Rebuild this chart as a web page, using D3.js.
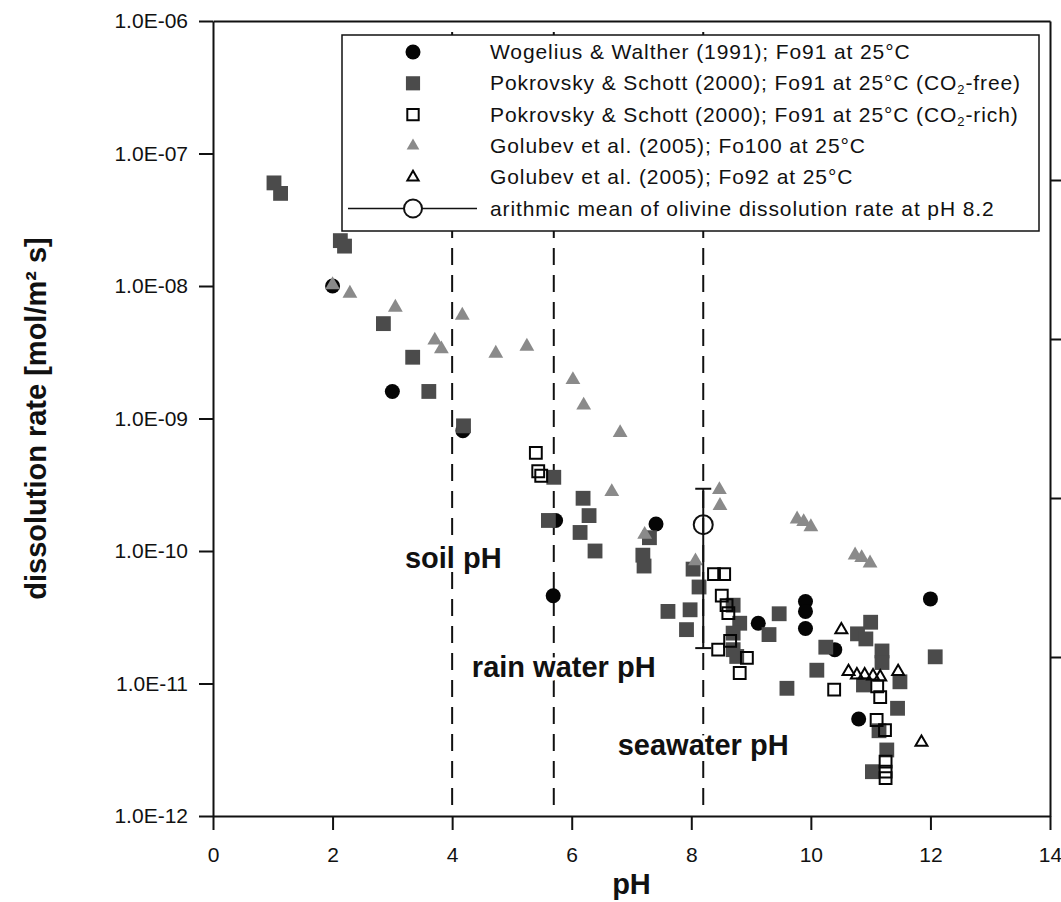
<!DOCTYPE html>
<html lang="en">
<head>
<meta charset="UTF-8">
<title>Olivine dissolution rate vs pH</title>
<script src="https://d3js.org/d3.v7.min.js"></script>
<style>
  body { margin: 0; background: #fff; }
  svg text { font-family: "Liberation Sans", Arial, sans-serif; fill: #111; }
  .axis path, .axis line { fill: none; stroke: #111; stroke-width: 2; }
  .axis text { font-size: 21px; font-family: "Liberation Sans", Arial, sans-serif; fill: #111; }
  .title { font-size: 29px; font-weight: bold; }
  .note { font-size: 29px; font-weight: bold; stroke: #fff; stroke-width: 7; paint-order: stroke; }
  .legend text { font-size: 21px; letter-spacing: 0.9px; }
</style>
</head>
<body>
<svg id="chart" width="1061" height="902"></svg>
<script>
// [pH, rate mol/m2/s]
const wogelius = [
  [2.0, 1.0e-8], [3.0, 1.6e-9], [4.18, 8.1e-10], [5.73, 1.7e-10], [5.69, 4.6e-11],
  [7.41, 1.6e-10], [9.12, 2.85e-11], [9.91, 4.15e-11], [9.91, 3.5e-11], [9.91, 2.6e-11],
  [10.40, 1.8e-11], [10.80, 5.4e-12], [12.0, 4.35e-11]
];
const pokrovskyFree = [
  [1.02, 6.0e-8], [1.13, 5.0e-8], [2.13, 2.2e-8], [2.20, 2.0e-8], [2.85, 5.2e-9],
  [3.34, 2.9e-9], [3.61, 1.6e-9], [4.19, 8.8e-10], [5.70, 3.6e-10], [6.19, 2.5e-10],
  [6.29, 1.85e-10], [5.61, 1.7e-10], [6.14, 1.38e-10], [6.39, 1.0e-10], [7.30, 1.26e-10],
  [7.19, 9.3e-11], [7.21, 7.7e-11], [7.61, 3.5e-11], [8.03, 7.3e-11], [8.13, 5.35e-11],
  [7.98, 3.6e-11], [7.92, 2.55e-11], [8.70, 3.9e-11], [8.70, 1.8e-11], [8.76, 1.6e-11],
  [8.81, 2.85e-11], [8.70, 2.4e-11], [9.47, 3.36e-11], [9.30, 2.34e-11], [10.25, 1.88e-11],
  [10.10, 1.26e-11], [9.60, 9.2e-12], [10.78, 2.37e-11], [11.0, 2.9e-11], [10.92, 2.17e-11],
  [11.19, 1.76e-11], [11.19, 1.44e-11], [10.88, 9.75e-12], [11.49, 1.03e-11], [11.45, 6.5e-12],
  [11.14, 4.4e-12], [11.27, 3.15e-12], [11.03, 2.16e-12], [12.08, 1.59e-11]
];
const pokrovskyRich = [
  [5.40, 5.5e-10], [5.44, 4.0e-10], [5.49, 3.7e-10], [8.38, 6.7e-11], [8.55, 6.7e-11],
  [8.51, 4.6e-11], [8.59, 3.9e-11], [8.62, 3.4e-11], [8.45, 1.8e-11], [8.65, 2.1e-11],
  [8.93, 1.56e-11], [8.81, 1.2e-11], [10.39, 9.0e-12], [11.11, 9.5e-12], [11.16, 7.9e-12],
  [11.10, 5.3e-12], [11.24, 4.45e-12], [11.25, 2.57e-12], [11.25, 2.16e-12], [11.25, 1.93e-12]
];
const golubev100 = [
  [2.0, 1.02e-8], [2.29, 8.8e-9], [3.05, 6.9e-9], [3.71, 3.9e-9], [3.82, 3.35e-9],
  [4.17, 6.0e-9], [4.73, 3.1e-9], [5.25, 3.5e-9], [6.02, 1.96e-9], [6.20, 1.26e-9],
  [6.81, 7.8e-10], [6.67, 2.8e-10], [7.22, 1.33e-10], [8.47, 2.9e-10], [8.48, 2.2e-10],
  [8.07, 8.4e-11], [9.77, 1.74e-10], [9.88, 1.66e-10], [10.0, 1.52e-10], [10.74, 9.3e-11],
  [10.85, 8.9e-11], [10.99, 8.1e-11]
];
const golubev92 = [
  [10.51, 2.54e-11], [10.63, 1.23e-11], [10.77, 1.16e-11], [10.90, 1.16e-11],
  [11.04, 1.14e-11], [11.16, 1.12e-11], [11.46, 1.23e-11], [11.85, 3.6e-12]
];
// arithmetic mean at pH 8.2 with range
const meanPoint = {ph: 8.2, rate: 1.58e-10, lo: 1.85e-11, hi: 2.95e-10};

const refPH = [4.0, 5.7, 8.2];
const notes = [
  {text: "soil pH", ph: 3.21, rate: 7.45e-11},
  {text: "rain water pH", ph: 4.33, rate: 1.12e-11},
  {text: "seawater pH", ph: 6.77, rate: 2.88e-12}
];

const xTicks = [0, 2, 4, 6, 8, 10, 12, 14];
const yTicks = [1e-12, 1e-11, 1e-10, 1e-9, 1e-8, 1e-7, 1e-6];

const legendLabels = [
  "Wogelius & Walther (1991); Fo91 at 25°C",
  "Pokrovsky & Schott (2000); Fo91 at 25°C (CO|-free)",
  "Pokrovsky & Schott (2000); Fo91 at 25°C (CO|-rich)",
  "Golubev et al. (2005); Fo100 at 25°C",
  "Golubev et al. (2005); Fo92 at 25°C",
  "arithmic mean of olivine dissolution rate at pH 8.2"
];

const margin = {top: 21, right: 11, bottom: 86, left: 213},
    width = 1061 - margin.left - margin.right,
    height = 902 - margin.top - margin.bottom;

const x = d3.scaleLinear().domain([0, 14]).range([0, width]);
const y = d3.scaleLog().domain([1e-12, 1e-6]).range([height, 0]);

const svg = d3.select("#chart");
const g = svg.append("g")
    .attr("transform", "translate(" + margin.left + "," + margin.top + ")");

const fmtE = d => "1.0E-" + String(Math.round(-Math.log10(d))).padStart(2, "0");

g.append("g")
    .attr("class", "axis")
    .attr("transform", "translate(0," + height + ")")
    .call(d3.axisBottom(x).tickValues(xTicks).tickSize(14).tickSizeOuter(0).tickPadding(17));

g.append("g")
    .attr("class", "axis")
    .call(d3.axisLeft(y).tickValues(yTicks).tickFormat(fmtE).tickSize(14).tickSizeOuter(0).tickPadding(11));

g.append("g")
    .attr("class", "axis")
    .call(d3.axisTop(x).tickValues([]).tickSizeOuter(0));

// right axis: unlabeled, five even divisions
const yr = d3.scaleLinear().domain([0, 5]).range([height, 0]);
g.append("g")
    .attr("class", "axis")
    .attr("transform", "translate(" + width + ",0)")
    .call(d3.axisRight(yr).tickValues([1, 2, 3, 4]).tickFormat("").tickSize(12).tickSizeOuter(0));

// dashed reference lines
g.selectAll(".ref")
    .data(refPH)
    .join("line")
    .attr("class", "ref")
    .attr("x1", d => x(d)).attr("x2", d => x(d))
    .attr("y1", height - 11).attr("y2", 0)
    .attr("stroke", "#111")
    .attr("stroke-width", 2)
    .attr("stroke-dasharray", "17,10");

g.selectAll(".note")
    .data(notes)
    .join("text")
    .attr("class", "note")
    .attr("x", d => x(d.ph))
    .attr("y", d => y(d.rate))
    .text(d => d.text);

const sym = (type, size) => d3.symbol().type(type).size(size)();
const pos = d => "translate(" + x(d[0]) + "," + y(d[1]) + ")";

g.selectAll(".wog")
    .data(wogelius)
    .join("path")
    .attr("class", "wog")
    .attr("transform", pos)
    .attr("d", sym(d3.symbolCircle, 177))
    .attr("fill", "#050505");

g.selectAll(".psf")
    .data(pokrovskyFree)
    .join("path")
    .attr("class", "psf")
    .attr("transform", pos)
    .attr("d", sym(d3.symbolSquare, 220))
    .attr("fill", "#4b4b4b");

g.selectAll(".psr")
    .data(pokrovskyRich)
    .join("path")
    .attr("class", "psr")
    .attr("transform", pos)
    .attr("d", sym(d3.symbolSquare, 140))
    .attr("fill", "none")
    .attr("stroke", "#050505")
    .attr("stroke-width", 2);

g.selectAll(".g100")
    .data(golubev100)
    .join("path")
    .attr("class", "g100")
    .attr("transform", pos)
    .attr("d", sym(d3.symbolTriangle, 95))
    .attr("fill", "#8a8a8a");

g.selectAll(".g92")
    .data(golubev92)
    .join("path")
    .attr("class", "g92")
    .attr("transform", pos)
    .attr("d", sym(d3.symbolTriangle, 62))
    .attr("fill", "none")
    .attr("stroke", "#050505")
    .attr("stroke-width", 2);

// mean with range bar
const mg = g.append("g").attr("stroke", "#111").attr("stroke-width", 2).attr("fill", "none");
mg.append("line")
    .attr("x1", x(meanPoint.ph)).attr("x2", x(meanPoint.ph))
    .attr("y1", y(meanPoint.lo)).attr("y2", y(meanPoint.hi));
[meanPoint.lo, meanPoint.hi].forEach(v => {
    mg.append("line")
        .attr("x1", x(meanPoint.ph) - 8).attr("x2", x(meanPoint.ph) + 8)
        .attr("y1", y(v)).attr("y2", y(v));
});
mg.append("circle")
    .attr("cx", x(meanPoint.ph)).attr("cy", y(meanPoint.rate))
    .attr("r", 9.5);

// titles
svg.append("text")
    .attr("class", "title")
    .attr("text-anchor", "middle")
    .attr("x", margin.left + x(7))
    .attr("y", 894)
    .text("pH");

svg.append("text")
    .attr("class", "title")
    .attr("text-anchor", "middle")
    .attr("transform", "translate(46," + (margin.top + height / 2) + ") rotate(-90)")
    .text("dissolution rate [mol/m² s]");

// legend
const legend = svg.append("g").attr("class", "legend").attr("transform", "translate(342,35)");
legend.append("rect")
    .attr("width", 697).attr("height", 196)
    .attr("fill", "#fff").attr("stroke", "#111").attr("stroke-width", 1.5);

const rowY = i => 17 + i * 31.3;
const symX = 71;
const legendSyms = [
    {d: sym(d3.symbolCircle, 177), fill: "#050505", stroke: "none"},
    {d: sym(d3.symbolSquare, 200), fill: "#4b4b4b", stroke: "none"},
    {d: sym(d3.symbolSquare, 130), fill: "none", stroke: "#050505"},
    {d: sym(d3.symbolTriangle, 70), fill: "#8a8a8a", stroke: "none"},
    {d: sym(d3.symbolTriangle, 55), fill: "none", stroke: "#050505"}
];
legendSyms.forEach((s, i) => {
    legend.append("path")
        .attr("transform", "translate(" + symX + "," + rowY(i) + ")")
        .attr("d", s.d)
        .attr("fill", s.fill)
        .attr("stroke", s.stroke)
        .attr("stroke-width", 2);
});
legend.append("line")
    .attr("x1", 6).attr("x2", 135)
    .attr("y1", rowY(5)).attr("y2", rowY(5))
    .attr("stroke", "#111").attr("stroke-width", 1.5);
legend.append("circle")
    .attr("cx", symX).attr("cy", rowY(5)).attr("r", 9)
    .attr("fill", "#fff").attr("stroke", "#111").attr("stroke-width", 2);

legendLabels.forEach((lab, i) => {
    const t = legend.append("text")
        .attr("x", 148)
        .attr("y", rowY(i) + 7);
    const parts = lab.split("|");
    t.append("tspan").text(parts[0]);
    if (parts.length > 1) {
        t.append("tspan").attr("font-size", "13px").attr("dy", 4).text("2");
        t.append("tspan").attr("dy", -4).text(parts[1]);
    }
});
</script>
</body>
</html>
